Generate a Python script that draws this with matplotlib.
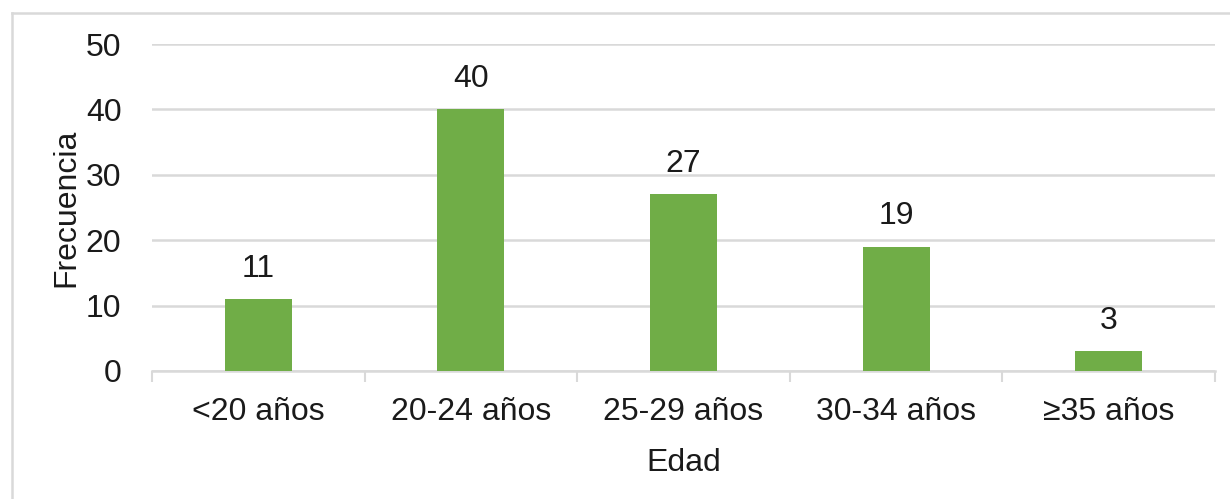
import matplotlib
matplotlib.use("Agg")
import matplotlib.pyplot as plt
from matplotlib.lines import Line2D

categories = ["<20 años", "20-24 años", "25-29 años", "30-34 años", "≥35 años"]
frecuencia = [11, 40, 27, 19, 3]
y_ticks = [0, 10, 20, 30, 40, 50]

plt.rcParams["font.family"] = ["Liberation Sans", "DejaVu Sans"]

W, H = 1230, 499
FS = 23
TXT = "#1a1a1a"
fig = plt.figure(figsize=(W / 100, H / 100), dpi=100)
fig.patch.set_facecolor("white")

ax = fig.add_axes([152 / W, 1 - 371 / H, (1215 - 152) / W, (371 - 44) / H])

x = list(range(len(categories)))
ax.bar(x, frecuencia, width=0.315, color="#70AD47", zorder=3)

for xi, v in zip(x, frecuencia):
    ax.annotate(str(v), xy=(xi, v), xytext=(0, 11), textcoords="offset points",
                ha="center", va="bottom", fontsize=FS, color=TXT)

ax.set_xlim(-0.5, len(categories) - 0.5)
ax.set_ylim(0, 50)
ax.set_yticks(y_ticks)
ax.set_yticklabels([str(t) for t in y_ticks])
ax.yaxis.grid(True, color="#d9d9d9", linewidth=1.8, zorder=0)
ax.set_axisbelow(True)

ax.set_xticks(x)
ax.set_xticklabels(categories)
# tick marks between categories
ax.set_xticks([i - 0.5 for i in range(len(categories) + 1)], minor=True)
ax.tick_params(axis="x", which="major", length=0, pad=19, labelsize=FS, labelcolor=TXT)
ax.tick_params(axis="x", which="minor", length=8, width=1.5, color="#d9d9d9")
ax.tick_params(axis="y", length=0, pad=22, labelsize=FS, labelcolor=TXT)

for side in ["top", "right", "left"]:
    ax.spines[side].set_visible(False)
ax.spines["bottom"].set_color("#d9d9d9")
ax.spines["bottom"].set_linewidth(1.8)

ax.set_xlabel("Edad", fontsize=FS, color=TXT, labelpad=15)
ax.set_ylabel("Frecuencia", fontsize=FS, color=TXT, labelpad=3)

# outer chart frame (top and left edges visible)
fig.add_artist(Line2D([12 / W, 1.0], [1 - 13 / H, 1 - 13 / H], transform=fig.transFigure,
                      color="#d9d9d9", linewidth=1.8))
fig.add_artist(Line2D([12 / W, 12 / W], [0.0, 1 - 13 / H], transform=fig.transFigure,
                      color="#d9d9d9", linewidth=1.8))

fig.savefig("out.png", dpi=100, facecolor="white")
